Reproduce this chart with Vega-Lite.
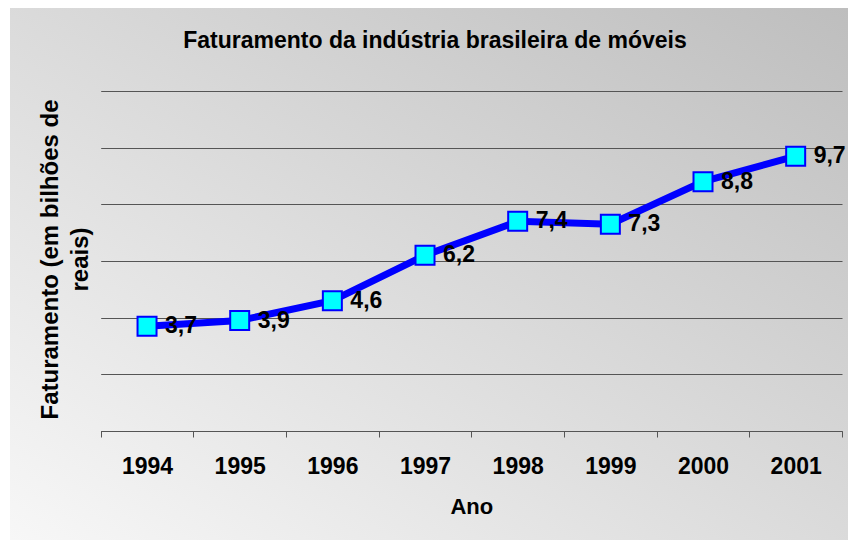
{
  "$schema": "https://vega.github.io/schema/vega-lite/v6.json",
  "width": 838,
  "height": 532,
  "autosize": {"type": "none"},
  "padding": {"left": 10, "top": 8, "right": 0, "bottom": 0},
  "background": "white",
  "view": {
    "fill": {
      "gradient": "linear",
      "x1": 0, "y1": 1, "x2": 1, "y2": 0,
      "stops": [
        {"offset": 0, "color": "#f7f7f7"},
        {"offset": 1, "color": "#bebebe"}
      ]
    },
    "stroke": null
  },
  "config": {
    "font": "Liberation Sans",
    "locale": {"number": {"decimal": ",", "thousands": ".", "grouping": [3], "currency": ["R$", ""]}}
  },
  "title": {
    "text": "Faturamento da indústria brasileira de móveis",
    "fontSize": 23,
    "fontWeight": "bold",
    "color": "black",
    "anchor": "middle",
    "frame": "group",
    "baseline": "alphabetic",
    "offset": -63,
    "dx": 6
  },
  "data": {
    "values": [
      {"ano": "1994", "valor": 3.7},
      {"ano": "1995", "valor": 3.9},
      {"ano": "1996", "valor": 4.6},
      {"ano": "1997", "valor": 6.2},
      {"ano": "1998", "valor": 7.4},
      {"ano": "1999", "valor": 7.3},
      {"ano": "2000", "valor": 8.8},
      {"ano": "2001", "valor": 9.7}
    ]
  },
  "encoding": {
    "x": {
      "field": "ano",
      "type": "ordinal",
      "bandPosition": 0.5,
      "scale": {"type": "band", "paddingInner": 0, "paddingOuter": 0, "range": [90.7, 832]},
      "axis": {
        "title": "Ano",
        "titleFontSize": 22,
        "titleFontWeight": "bold",
        "titleColor": "black",
        "titleBaseline": "alphabetic",
        "titleY": 82,
        "labelFontSize": 23,
        "labelFontWeight": "bold",
        "labelColor": "black",
        "labelPadding": 18,
        "labelAngle": 0,
        "tickBand": "extent",
        "tickSize": 6,
        "tickColor": "#555555",
        "domainColor": "#555555",
        "grid": false,
        "offset": -109
      }
    },
    "y": {
      "field": "valor",
      "type": "quantitative",
      "scale": {"domain": [0, 12], "nice": false, "range": [423, 83]},
      "axis": {
        "title": ["Faturamento (em bilhões de", "reais)"],
        "titleFontSize": 24,
        "titleFontWeight": "bold",
        "titleColor": "black",
        "titleBaseline": "alphabetic",
        "titleLineHeight": 29,
        "titleAlign": "center",
        "titleX": -42.7,
        "titleY": 251,
        "labels": false,
        "ticks": false,
        "domain": false,
        "grid": true,
        "gridColor": "#555555",
        "gridWidth": 1,
        "values": [0, 2, 4, 6, 8, 10, 12],
        "offset": -90.7
      }
    }
  },
  "layer": [
    {"mark": {"type": "line", "color": "#0000ff", "strokeWidth": 7}},
    {"mark": {"type": "point", "shape": "square", "size": 361, "filled": true, "fill": "#00ffff", "stroke": "#0000ff", "strokeWidth": 2, "opacity": 1}},
    {
      "mark": {"type": "text", "align": "left", "baseline": "middle", "dx": 18, "fontSize": 23, "fontWeight": "bold", "color": "black"},
      "encoding": {"text": {"field": "valor", "type": "quantitative", "format": ".1f"}}
    }
  ]
}
